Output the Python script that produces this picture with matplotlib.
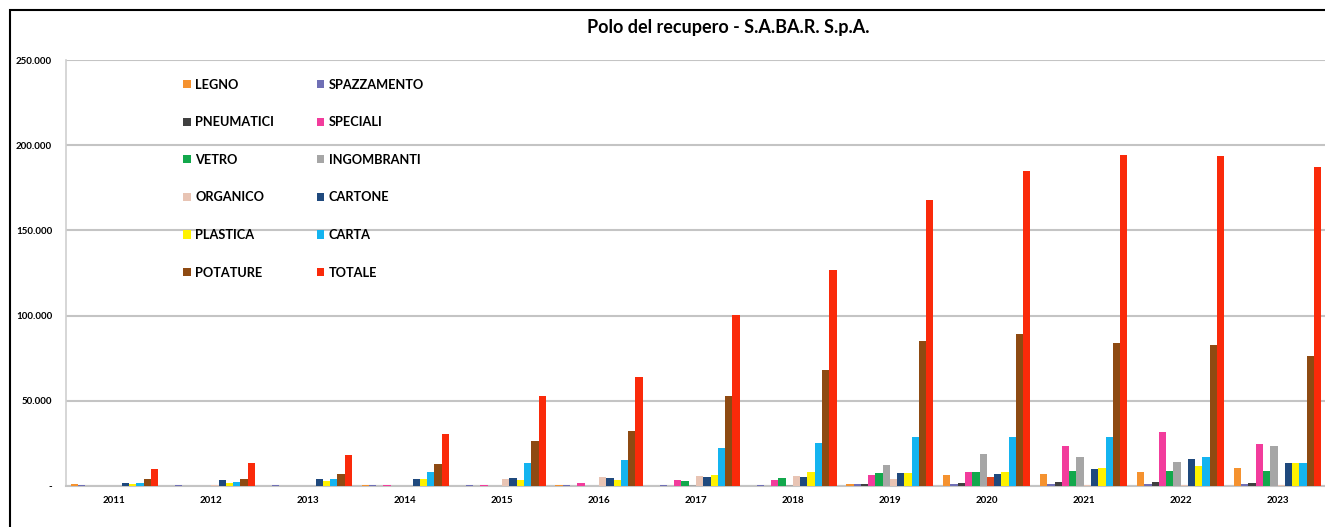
import matplotlib
matplotlib.use("Agg")
import matplotlib.pyplot as plt
import matplotlib.patches as patches
from matplotlib.ticker import FuncFormatter
import numpy as np

plt.rcParams['font.family'] = ['Lato', 'DejaVu Sans']

years = ['2011', '2012', '2013', '2014', '2015', '2016', '2017',
         '2018', '2019', '2020', '2021', '2022', '2023']

# tonnellate (migliaia)
legno = [1.2, 0, 0, 0.4, 0, 0.5, 0, 0, 1.4, 6.5, 7.0, 8.4, 10.8]
spazzamento = [0.3, 0.3, 0.3, 0.3, 0.3, 0.3, 0.6, 0.8, 1.0, 1.0, 1.0, 1.0, 1.0]
pneumatici = [0, 0, 0, 0, 0, 0, 0, 0, 1.2, 1.5, 2.2, 2.5, 2.0]
speciali = [0, 0, 0, 0.7, 0.8, 1.5, 3.3, 3.5, 6.5, 8.4, 23.7, 31.6, 24.7]
vetro = [0, 0, 0, 0, 0, 0, 3.0, 4.5, 7.8, 8.4, 9.0, 9.0, 9.0]
ingombranti = [0, 0, 0, 0, 0, 0, 0.3, 0.3, 12.4, 18.6, 16.9, 14.3, 23.5]
organico = [0, 0.5, 0, 0, 4.0, 5.3, 6.0, 6.0, 4.0, 5.3, 0.3, 0.3, 0.3]
cartone = [2.0, 3.4, 4.0, 4.0, 4.5, 4.5, 5.0, 5.0, 7.5, 7.2, 10.0, 15.9, 13.4]
plastica = [1.0, 2.0, 3.0, 4.0, 3.5, 3.5, 6.5, 8.2, 7.8, 8.2, 10.4, 11.8, 13.4]
carta = [2.0, 2.6, 4.0, 8.5, 13.7, 15.3, 22.5, 25.0, 29.0, 29.0, 29.0, 16.9, 13.4]
potature = [4.0, 4.3, 7.0, 12.8, 26.5, 32.0, 53.0, 68.0, 85.0, 89.0, 84.0, 83.0, 76.5]
totale = [10.2, 13.7, 18.0, 30.4, 53.0, 64.0, 100.5, 127.0, 168.0, 185.0, 194.0, 193.5, 187.0]

labels = ['LEGNO', 'SPAZZAMENTO', 'PNEUMATICI', 'SPECIALI', 'VETRO', 'INGOMBRANTI',
          'ORGANICO', 'CARTONE', 'PLASTICA', 'CARTA', 'POTATURE', 'TOTALE']
series = [legno, spazzamento, pneumatici, speciali, vetro, ingombranti,
          organico, cartone, plastica, carta, potature, totale]
colors = ['#F5922F', '#6F6FB5', '#404040', '#F23C9C', '#12A84C', '#A6A6A6',
          '#E8C4B4', '#1F497D', '#FFF200', '#14B4F0', '#8E4A12', '#FA2A0A']

fig = plt.figure(figsize=(13.25, 5.27), dpi=100)
ax = fig.add_axes([66 / 1325, 41 / 527, 1260 / 1325, 426 / 527])

x = np.arange(len(years))
w = 0.075
handles = []
for i, (lab, vals, col) in enumerate(zip(labels, series, colors)):
    bars = ax.bar(x + (i - 5.5) * w, np.array(vals) * 1000, width=w,
                  color=col, label=lab, zorder=3)
    handles.append(bars)
    if lab == 'ORGANICO':
        # nel 2020 la barra dell'organico ha un colore diverso
        bars[9].set_facecolor('#E0461E')

ax.set_xlim(-0.5, len(years) - 0.5)
ax.set_ylim(0, 250000)
ax.set_yticks(np.arange(0, 250001, 50000))
ax.yaxis.set_major_formatter(FuncFormatter(
    lambda v, p: '-' if v == 0 else f'{int(v):,}'.replace(',', '.')))
ax.set_xticks(x)
ax.set_xticklabels(years)
ax.tick_params(axis='both', length=0, labelsize=7)
ax.tick_params(axis='y', pad=10)
ax.tick_params(axis='x', pad=7)
for t in ax.get_xticklabels() + ax.get_yticklabels():
    t.set_fontweight('bold')

ax.grid(axis='y', color='#C4C4C4', linewidth=1.5, zorder=0)
for s in ['top', 'right']:
    ax.spines[s].set_visible(False)
ax.spines['left'].set_color('#CFCFCF')
ax.spines['left'].set_linewidth(1.2)
ax.spines['bottom'].set_color('#C4C4C4')
ax.spines['bottom'].set_linewidth(1.5)

# legenda a due colonne, ordinata per righe
order = list(range(0, 12, 2)) + list(range(1, 12, 2))
leg = ax.legend([handles[i] for i in order], [labels[i] for i in order],
                ncol=2, frameon=False, loc='upper left',
                bbox_to_anchor=(0.084, 0.983), fontsize=9.2,
                labelspacing=2.0, columnspacing=3.3,
                handlelength=0.6, handleheight=0.6, handletextpad=0.35)
for t in leg.get_texts():
    t.set_fontweight('bold')

fig.text(728 / 1325, 1 - 28 / 527, 'Polo del recupero - S.A.BA.R. S.p.A.',
         ha='center', va='center', fontsize=13, fontweight='bold')

frame = patches.Rectangle((10 / 1325, -0.05), 1.1, 1.05 - 10 / 527,
                          transform=fig.transFigure, fill=False,
                          edgecolor='black', linewidth=1.5)
fig.patches.append(frame)

fig.savefig('out.png', dpi=100)
